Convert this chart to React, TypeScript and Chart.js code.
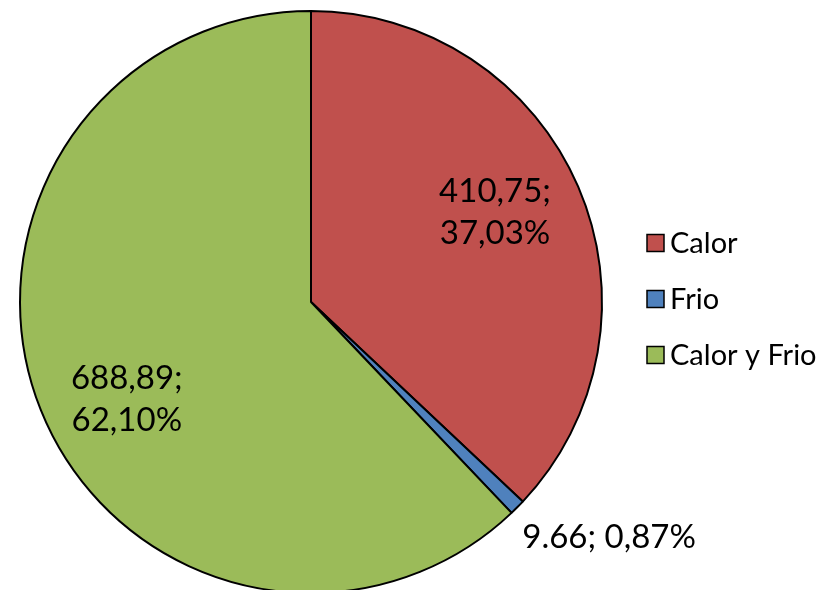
import React, { useEffect, useRef } from "react";
import { Chart, registerables } from "chart.js";

Chart.register(...registerables);

// ---- data ----
const categories = ["Calor", "Frio", "Calor y Frio"];
const values = [410.75, 9.66, 688.89];
const valueLabels = ["410,75", "9.66", "688,89"];
const percentLabels = ["37,03%", "0,87%", "62,10%"];
const colors = ["#C0504D", "#4F81BD", "#9BBB59"];

// ---- label layout (style only) ----
const labelStyle = [
  { inside: true, factor: 0.7, dx: -3, dy: -9 },
  { inside: false, factor: 1.0, dx: 5, dy: 30 },
  { inside: true, factor: 0.7, dx: 5, dy: 22 },
];

const FONT = "Lato, 'Open Sans', sans-serif";

const dataLabelPlugin = {
  id: "dataLabels",
  afterDatasetsDraw(chart: any) {
    const ctx = chart.ctx;
    const meta = chart.getDatasetMeta(0);
    ctx.save();
    ctx.fillStyle = "#000";
    ctx.font = `33px ${FONT}`;
    meta.data.forEach((arc: any, i: number) => {
      const p = arc.getProps(["x", "y", "startAngle", "endAngle", "outerRadius"], true);
      const mid = (p.startAngle + p.endAngle) / 2;
      const st = labelStyle[i];
      const r = p.outerRadius * st.factor;
      const x = p.x + Math.cos(mid) * r + st.dx;
      const y = p.y + Math.sin(mid) * r + st.dy;
      if (st.inside) {
        ctx.textAlign = "center";
        ctx.textBaseline = "middle";
        ctx.fillText(valueLabels[i] + ";", x, y - 21);
        ctx.fillText(percentLabels[i], x, y + 21);
      } else {
        ctx.textAlign = "left";
        ctx.textBaseline = "middle";
        ctx.fillText(valueLabels[i] + "; " + percentLabels[i], x, y);
      }
    });
    ctx.restore();
  },
};

const legendPlugin = {
  id: "customLegend",
  afterDraw(chart: any) {
    const ctx = chart.ctx;
    const boxX = 647;
    const boxSize = 17;
    const firstY = 243;
    const gap = 56;
    ctx.save();
    ctx.font = `29px ${FONT}`;
    ctx.textAlign = "left";
    ctx.textBaseline = "middle";
    categories.forEach((c, i) => {
      const cy = firstY + i * gap;
      ctx.fillStyle = colors[i];
      ctx.fillRect(boxX, cy - boxSize / 2, boxSize, boxSize);
      ctx.lineWidth = 1.5;
      ctx.strokeStyle = "#000";
      ctx.strokeRect(boxX, cy - boxSize / 2, boxSize, boxSize);
      ctx.fillStyle = "#000";
      ctx.fillText(c, boxX + boxSize + 6, cy + 1);
    });
    ctx.restore();
  },
};

export default function App() {
  const ref = useRef<HTMLCanvasElement | null>(null);
  useEffect(() => {
    if (!ref.current) return;
    const chart = new Chart(ref.current, {
      type: "pie",
      data: {
        labels: categories,
        datasets: [
          {
            data: values,
            backgroundColor: colors,
            borderColor: "#000",
            borderWidth: 2,
            hoverOffset: 0,
          },
        ],
      },
      options: {
        responsive: false,
        animation: false,
        events: [],
        layout: { padding: { left: 19, top: 10, right: 226, bottom: 26 } },
        plugins: {
          legend: { display: false },
          tooltip: { enabled: false },
        },
      },
      plugins: [dataLabelPlugin, legendPlugin],
    });
    return () => chart.destroy();
  }, []);
  return (
    <div
      style={{
        position: "fixed",
        top: 0,
        left: 0,
        width: 829,
        height: 590,
        overflow: "hidden",
        background: "#fff",
      }}
    >
      <canvas ref={ref} width={829} height={620} style={{ display: "block" }} />
    </div>
  );
}
